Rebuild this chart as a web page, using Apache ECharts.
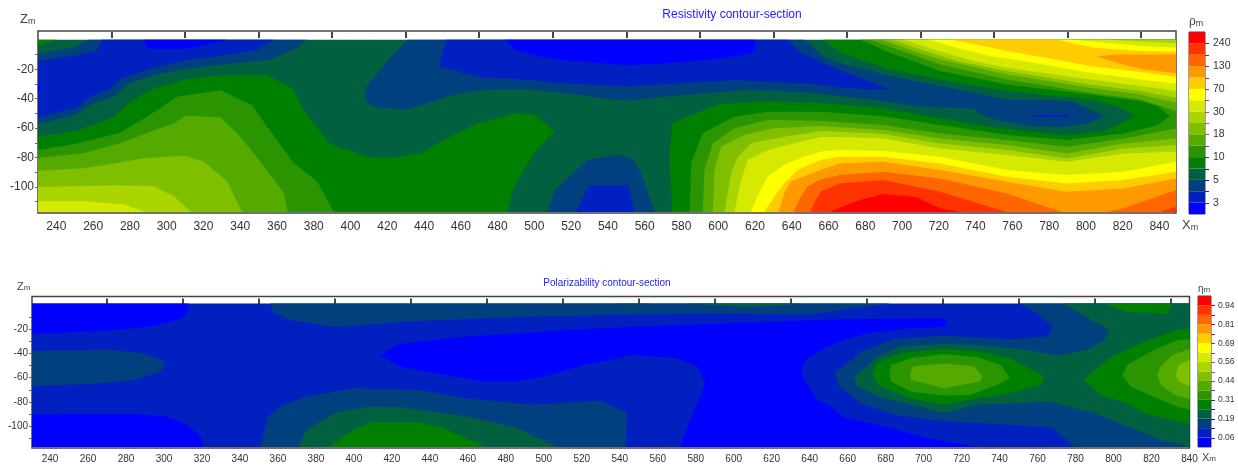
<!DOCTYPE html>
<html><head><meta charset="utf-8">
<style>html,body{margin:0;padding:0;background:#fff}#c{width:1238px;height:467px}</style>
<script src="https://cdn.jsdelivr.net/npm/echarts@6/dist/echarts.min.js"></script>
</head><body><div id="c"></div>
<script>
const bandColors=['#0000FF','#0020BF','#00407F','#00603F','#008000','#2A9500','#55AA00','#80BF00','#AAD500','#D5EA00','#FFFF00','#FFCC00','#FF9900','#FF6600','#FF3300','#FF0000'];
const tickColors=['#2a2ae0','#1a1ad0','#1010c0','#1010b0','#303090','#6040a8','#8050b8','#a050b0','#b84090','#c03070','#c82050','#d01838','#d81028','#e00818','#f00010'];
const resLegendLabels=['3','5','10','18','30','70','130','240'];
const polLegendLabels=['0.06','0.19','0.31','0.44','0.56','0.69','0.81','0.94'];
const legendEdges=[1,3,5,7,9,11,13,15];
const legendAllEdges=[1,2,3,4,5,6,7,8,9,10,11,12,13,14,15];
const resXLabels=[240,260,280,300,320,340,360,380,400,420,440,460,480,500,520,540,560,580,600,620,640,660,680,700,720,740,760,780,800,820,840];
const xMinor=[240,250,260,270,280,290,300,310,320,330,340,350,360,370,380,390,400,410,420,430,440,450,460,470,480,490,500,510,520,530,540,550,560,570,580,590,600,610,620,630,640,650,660,670,680,690,700,710,720,730,740,750,760,770,780,790,800,810,820,830,840];
const stations=[270,310,350,390,430,470,510,550,590,630,670,710,750,790,830];
const zLabels=[-20,-40,-60,-80,-100];
const zMinor=[-10,-20,-30,-40,-50,-60,-70,-80,-90,-100,-110];

// Resistivity section: base band 4, boundaries in metres [x, z]
const r3a=[[230,-9.5],[250.3,-5],[257.6,0],[376.4,0],[370,-6],[356.4,-13.5],[336.5,-16],[310.2,-19.6],[293,-24],[279.3,-29.7],[271.2,-38.7],[260.3,-43],[250.3,-51],[230,-57.4]];
const r3b=[[431,0],[647,0],[657.8,-11.7],[666.3,-16],[693.5,-24.6],[720.7,-31.4],[757,-40.5],[791.4,-41.6],[810.5,-51.8],[800.7,-56.8],[786.2,-59.5],[768.1,-58.6],[751.9,-54.5],[742.8,-51],[739,-46.6],[710,-45.5],[686.8,-41],[668.7,-38.7],[650.6,-36],[618,-34],[590.7,-36.5],[565.4,-39.4],[550.9,-41.4],[540,-40.3],[518,-36.5],[494.7,-33.6],[473,-34],[454.9,-37.6],[438.5,-44.4],[429,-47.7],[412.6,-45.5],[408,-41],[408,-33],[414.4,-23],[425.3,-7]];
const r3c=[[506.9,-117],[511,-102],[529,-81.5],[545.4,-78],[552.7,-80.4],[558,-90.5],[565.4,-117]];
const r2a=[[230,-14.6],[250.3,-10.6],[262,-7.2],[264.8,0],[358.2,0],[349,-7],[325.6,-11.7],[309,-14],[291,-19.6],[274.8,-26.4],[269.4,-33],[258.5,-38.7],[251.2,-46],[230,-52.7]];
const r2b=[[452.1,0],[638.7,0],[642.8,-7.2],[650.6,-11.7],[659.6,-17.3],[666.3,-21.2],[677.2,-25.7],[693.5,-33.7],[684.4,-33.7],[666.3,-32.5],[650.6,-29.7],[608.8,-27.5],[581.7,-29.3],[551,-31.5],[518,-29.7],[491,-26.8],[473,-25.7],[448.5,-18.5],[449,-11.7]];
const r2c=[[522.4,-117],[530,-99],[551,-99],[554.5,-117]];
const r2d=[[767,-51.3],[778,-50.7],[791.4,-51.3],[789.6,-52.5],[775.1,-52.5]];
const r1a=[[287.5,0],[289.3,-6],[311,-6],[332.8,0]];
const r1b=[[483.8,0],[490,-7],[509,-12.8],[536.4,-16],[550.9,-17.3],[572.6,-16],[599.8,-12.8],[617.9,-9.5],[620.6,-6],[619.7,0]];
const r1c=[[230,-30],[232,-33],[230,-36]];
const r5a=[[230,-65.8],[251,-62],[272,-52],[279,-43],[293,-33],[310,-27],[329,-24],[355,-24],[369,-34],[374.5,-48],[389,-71],[411,-80],[423.5,-80],[438.5,-77],[449.4,-69],[469,-57],[489,-50],[500,-51],[511,-62],[500,-77],[489,-99.5],[485,-117],[230,-117]];
const r5b=[[575,-117],[573.5,-79],[575,-57],[587,-50],[601.5,-43.6],[627,-41.7],[656,-43],[687,-46],[710,-51],[737,-57],[752,-60],[790,-65],[810,-62],[817,-58],[826.8,-51.8],[816.8,-45],[802.3,-40.5],[757,-34.8],[720.7,-26.9],[693.5,-20.1],[666.3,-8.7],[657,0],[849,0],[849,-117]];
const r5c=[[230,0],[240,0],[232,-3],[230,-4]];
const r6a=[[230,-74.8],[250.3,-70.7],[273.9,-63.5],[289.3,-52.3],[305.6,-38.7],[329.2,-34.2],[346.4,-44.4],[354.6,-59],[369.1,-83.8],[381.8,-96.2],[390.9,-117],[230,-117]];
const r6b=[[584.4,-117],[585.3,-83.8],[591.6,-63.5],[608.8,-52.3],[627,-48.9],[656,-48.9],[689.9,-52],[720.7,-57.9],[757,-64.7],[789.6,-68.1],[820.5,-63.6],[838.6,-58],[845.8,-51.8],[838.6,-45],[829.5,-41.6],[802.3,-37.1],[757,-30.3],[720.7,-21.2],[693.5,-8.7],[677.2,0],[849,0],[849,-117]];
const r7a=[[230,-80.4],[254.9,-77],[274.8,-70.3],[291.1,-62.4],[303.8,-56.8],[310.2,-51.6],[329.2,-52.7],[340.1,-65.8],[352.8,-86],[363.7,-104],[365.8,-117],[230,-117]];
const r7b=[[591.6,-117],[592.5,-88.3],[597.1,-70.3],[608.8,-60.1],[627,-54.5],[656,-55],[666.3,-56],[689.9,-57.9],[720.7,-63.6],[757,-68.1],[789.6,-72.6],[820.5,-67],[849,-60.2],[849,-117]];
const r7c=[[682.6,0],[702.6,-8.7],[720.7,-16.7],[757,-26.9],[802.3,-35.9],[829.5,-40.5],[849,-48.4],[849,0]];
const r8a=[[230,-89],[254.9,-87.2],[273,-83.8],[285.7,-80.9],[309.3,-78.6],[320.1,-82.7],[332.8,-96.2],[341,-117],[230,-117]];
const r8b=[[597.1,-117],[598,-88.3],[601.6,-72.5],[614.3,-64.6],[630.6,-60.1],[656,-58.5],[666.3,-59.5],[689.9,-61.3],[720.7,-67],[757,-71.5],[789.6,-77.2],[820.5,-70.4],[849,-67],[849,-117]];
const r8c=[[689,0],[706.2,-7.6],[720.7,-13.3],[757,-23.5],[802.3,-32.5],[829.5,-37.1],[849,-42.7],[849,0]];
const r9a=[[230,-100],[273,-98.9],[292.9,-99.5],[303.8,-106.3],[313.4,-117],[230,-117]];
const r9b=[[603.4,-117],[607,-90.5],[610.7,-79.3],[617.9,-70.3],[636,-65.8],[656,-62],[666.3,-62.5],[689.9,-64],[720.7,-70.4],[757,-74.9],[789.6,-80.6],[820.5,-73.8],[849,-71.5],[849,-117]];
const r9c=[[694.4,0],[709.8,-6.5],[729.8,-14.4],[757,-21.2],[802.3,-30.3],[829.5,-34.8],[849,-39.3],[849,0]];
const r10a=[[230,-109.7],[254.9,-109.7],[276.6,-111.9],[288.4,-117],[230,-117]];
const r10b=[[608.8,-117],[612.5,-95],[616.1,-81.5],[627,-74.8],[645.1,-69.1],[656,-66],[666.3,-66],[689.9,-67],[720.7,-73.8],[757,-78.3],[789.6,-82.8],[820.5,-77.2],[849,-76],[849,-117]];
const r10c=[[700.8,0],[717.1,-6.5],[738.8,-14.4],[757,-19],[802.3,-26.9],[829.5,-31.4],[849,-34.8],[849,-2.4],[811.4,0]];
const r11a=[[617.5,-117],[622.4,-104],[627,-92.8],[636,-84.9],[646.9,-79.3],[656,-75.9],[666.3,-74.9],[689.9,-75.6],[720.7,-79.4],[757,-88.5],[789.6,-91.9],[820.5,-89.6],[849,-82.8],[849,-117]];
const r11b=[[714.4,0],[729.8,-5.3],[747.9,-11],[766,-14.4],[802.3,-22.3],[829.5,-26.9],[849,-29.8],[849,-5.3],[829.5,-4.2],[811.4,-2],[793.3,0]];
const r12a=[[625.1,-117],[630.6,-106.3],[636,-97.3],[643.3,-88.3],[656,-81.5],[666.3,-79.4],[689.9,-79.4],[720.7,-84],[757,-93],[789.6,-97.6],[820.5,-95.3],[849,-89.6],[849,-117]];
const r12b=[[727,0],[744.3,-4.2],[757,-7.6],[775.1,-11.5],[802.3,-17.8],[829.5,-21.9],[849,-25.1],[849,-8.1],[829.5,-7.6],[804.1,-5.3],[784.2,0]];
const r13a=[[632.8,-117],[636,-104],[639.6,-96.2],[656,-88.3],[666.3,-84],[689.9,-82.8],[720.7,-88.5],[757,-96.4],[789.6,-103.2],[820.5,-101],[849,-94.2],[849,-117]];
const r13b=[[805.9,-11.5],[815,-9.9],[849,-9.9],[849,-22.8],[829.5,-19.6],[820.5,-16.7]];
const r14a=[[641,-117],[645.1,-106.3],[648.7,-99.5],[656,-95],[666.3,-91.9],[689.9,-89.6],[720.7,-94.2],[757,-104.4],[786.9,-117]];
const r14b=[[811.4,-117],[820.5,-114.5],[849,-102.1],[849,-117]];
const r15a=[[650.1,-117],[653.2,-108.6],[656,-102.9],[666.3,-97.6],[689.9,-95.3],[720.7,-103.2],[757,-117]];
const r15b=[[840.4,-117],[849,-113.4],[849,-117]];
const r16a=[[661,-117],[666.3,-113.9],[677.2,-108.9],[689.9,-104.8],[708,-107],[720.7,-114.5],[731.6,-117]];

// Polarizability section: base band 2
const p1a=[[230.5,1],[313,1],[312.7,-4.4],[310,-11],[292.6,-18],[266.3,-21.6],[230.5,-24]];
const p1b=[[230.5,-90.4],[248.8,-89.6],[283.8,-89.6],[301.3,-91.8],[311.9,-98.6],[318.9,-108],[321,-117],[230.5,-117]];
const p1c=[[413.5,-41.8],[424,-32.2],[459.6,-26.2],[486,-23.5],[512.3,-20.8],[547.4,-18],[600,-15.3],[645.6,-12.6],[658.2,-12],[711.7,-11.2],[712.2,-14],[711.7,-18],[693.3,-19.4],[670.5,-23.5],[658.2,-29],[647.7,-35.8],[640.7,-42.6],[637.7,-45.4],[635.6,-56.3],[638.6,-65.8],[643.9,-78.1],[651.2,-83.6],[658.2,-93.2],[675.8,-98.6],[702,-109.6],[726.6,-116.4],[726.6,-117],[571.9,-117],[573.7,-108.2],[585.1,-64.5],[580.7,-50.8],[570.2,-44],[547.4,-41.3],[521,-49.5],[503.5,-57.7],[486,-63.1],[468.4,-63.1],[442.1,-56.3],[424.6,-50.8]];
const p3a=[[356,1],[357.4,-5.7],[366.2,-12.6],[389,-18],[406.5,-16.7],[424.6,-13.9],[477.2,-10.7],[529.8,-8.5],[582,-7.1],[640.7,-7.9],[658,-4],[682.8,1]];
const p3b=[[230.5,-38],[271.6,-37],[289,-40],[298.7,-45],[300.8,-49.5],[297.8,-55],[283.8,-62],[266.3,-64.5],[230.5,-67]];
const p3c=[[350.4,-117],[354.8,-91.8],[360.9,-83.6],[375,-75.4],[399.5,-68.6],[434.6,-70],[459.6,-76.8],[494.7,-82.2],[529.8,-78.7],[543.9,-89],[543,-117]];
const p3d=[[750.3,1],[759.9,-7.1],[767.8,-18],[765.2,-26.2],[745.9,-28.4],[710.8,-25.4],[684.5,-28.4],[667,-38.5],[653,-56.3],[655.6,-67.2],[667,-80.9],[684.5,-90.4],[710.8,-95.9],[745.9,-98.6],[767.8,-101.4],[779.2,-117],[840,-117],[840,1]];
const p4a=[[370.9,-117],[375,-102.7],[390.7,-88.5],[406.5,-84],[424.6,-84],[459.6,-91.8],[486,-101.4],[507,-117]];
const p4b=[[773,1],[781,-5.7],[797.6,-20.8],[795,-29],[786.2,-37.2],[770.4,-42],[754.7,-37.2],[728.4,-33],[710.8,-32.2],[688,-34.4],[675.8,-42.6],[663.5,-59],[664.4,-65.8],[675.8,-75.4],[693.3,-82.2],[710.8,-89],[728.4,-82.2],[749.4,-80.9],[766,-79.5],[789.7,-89],[807.2,-100],[824.8,-110.9],[840,-117],[840,1]];
const p4c=[[536,1],[547,0],[558,1]];
const p4d=[[573.7,1],[591.2,-0.3],[608.7,-1.6],[626.3,-0.3],[636.8,1]];
const p5a=[[386.7,-117],[399.5,-102.7],[410,-96.7],[434.6,-96.7],[447.4,-101.4],[469.3,-117]];
const p5b=[[673.1,-57.7],[674.9,-48],[688,-39.9],[710.8,-36.3],[728.4,-38.5],[745.9,-44],[763.4,-59],[761.7,-65.8],[745.9,-72.7],[728.4,-76.8],[710.8,-82.2],[693.3,-76.8],[675.8,-65.8]];
const p5c=[[784.1,-61.7],[798.5,-43.2],[816,-30.3],[833.5,-20.8],[840,-19.4],[840,-97.8],[833.5,-95.9],[816,-89],[807.2,-80.9],[793.2,-74]];
const p5d=[[795,1],[807.2,-5.7],[828.3,-7.1],[830.9,1]];
const p6a=[[681.9,-56.3],[682.8,-49.5],[693.3,-44],[710.8,-40.4],[728.4,-43.2],[740.6,-49.5],[745.5,-60.4],[738.9,-65.8],[724.9,-74],[710.8,-74.9],[693.3,-71.3],[682.8,-63.1]];
const p6b=[[804.6,-57.7],[807.2,-49.5],[821.3,-37.2],[833.5,-29],[840,-28.4],[840,-86.3],[833.5,-83.6],[823,-76.8],[809,-67.2]];
const p7a=[[693,-56.3],[694.2,-50.8],[710.8,-48],[726.6,-50.8],[731,-59],[730,-63.1],[710.8,-68.6],[693.3,-61.7]];
const p7b=[[823,-57.7],[824.8,-50.8],[831,-41.3],[840,-36.3],[840,-77.6],[831.8,-74],[824.8,-65.8]];
const p8a=[[832.7,-57.7],[834.4,-49.5],[840,-45.4],[840,-67.2],[834.4,-63.1]];

const resLayers=[[3,r3a],[3,r3b],[3,r3c],[2,r2a],[2,r2b],[2,r2c],[2,r2d],[1,r1a],[1,r1b],[1,r1c],[5,r5a],[5,r5b],[5,r5c],[6,r6a],[6,r6b],[7,r7a],[7,r7b],[7,r7c],[8,r8a],[8,r8b],[8,r8c],[9,r9a],[9,r9b],[9,r9c],[10,r10a],[10,r10b],[10,r10c],[11,r11a],[11,r11b],[12,r12a],[12,r12b],[13,r13a],[13,r13b],[14,r14a],[14,r14b],[15,r15a],[15,r15b],[16,r16a]];
const polLayers=[[1,p1a],[1,p1b],[1,p1c],[3,p3a],[3,p3b],[3,p3c],[3,p3d],[4,p4a],[4,p4b],[4,p4c],[4,p4d],[5,p5a],[5,p5b],[5,p5c],[5,p5d],[6,p6a],[6,p6b],[7,p7a],[7,p7b],[8,p8a]];
const resBase=[[4,[[230,0],[849,0],[849,-117],[230,-117]]]];
const polBase=[[2,[[230.5,1],[840,1],[840,-117],[230.5,-117]]]];

const font='"Liberation Sans",Arial,sans-serif';
const ink='#333';
function section(layers,xi,yi){
  return {type:'custom',xAxisIndex:xi,yAxisIndex:yi,silent:true,animation:false,clip:false,
    data:layers.map((l,i)=>({value:[l[1][0][0],l[1][0][1],i]})),
    renderItem:(p,api)=>{const l=layers[api.value(2)];
      return {type:'polygon',shape:{points:l[1].map(q=>api.coord(q))},style:{fill:bandColors[l[0]-1],stroke:null}};}};
}
function legendBar(xi,yi){
  return {type:'custom',xAxisIndex:xi,yAxisIndex:yi,silent:true,animation:false,clip:false,
    data:bandColors.map((c,i)=>({value:[0,i]})),
    renderItem:(p,api)=>{const i=api.value(1),a=api.coord([0,i+1]),b=api.coord([1,i]);
      return {type:'rect',shape:{x:a[0],y:a[1],width:b[0]-a[0],height:b[1]-a[1]},style:{fill:bandColors[i]}};}};
}
function legendTicks(xi,yi){
  return {type:'custom',xAxisIndex:xi,yAxisIndex:yi,silent:true,animation:false,clip:false,
    data:legendAllEdges.map(e=>({value:[1,e]})),
    renderItem:(p,api)=>{const e=api.value(1),a=api.coord([1,e]);
      return {type:'line',shape:{x1:a[0],y1:Math.round(a[1])+.5,x2:a[0]+4,y2:Math.round(a[1])+.5},style:{stroke:tickColors[e-1],lineWidth:1}};}};
}
function mainX(gi,min,max,fs,margin){return {type:'value',gridIndex:gi,min,max,position:'bottom',splitLine:{show:false},axisLine:{show:false},
  axisTick:{show:true,length:3,customValues:xMinor,lineStyle:{color:'#666'}},
  axisLabel:{customValues:resXLabels,color:ink,fontSize:fs,fontFamily:font,margin,hideOverlap:false,showMinLabel:true,showMaxLabel:true}};}
function topX(gi,min,max,off){return {type:'value',gridIndex:gi,min,max,position:'top',offset:off,splitLine:{show:false},axisLine:{show:false},
  axisTick:{show:true,inside:true,length:6,customValues:stations,lineStyle:{color:'#444',width:2}},axisLabel:{show:false}};}
function mainY(gi,min,max,fs){return {type:'value',gridIndex:gi,min,max,splitLine:{show:false},axisLine:{show:false},
  axisTick:{show:true,length:3,customValues:zMinor,lineStyle:{color:'#666'}},
  axisLabel:{customValues:zLabels,color:ink,fontSize:fs,fontFamily:font,margin:4,hideOverlap:false}};}
function legX(gi){return {type:'value',gridIndex:gi,min:0,max:1,show:false};}
function legY(gi,labels,fs,margin){return {type:'value',gridIndex:gi,min:0,max:16,position:'right',splitLine:{show:false},axisLine:{show:false},axisTick:{show:false},
  axisLabel:{customValues:legendEdges,color:ink,fontSize:fs,fontFamily:font,margin,formatter:v=>labels[legendEdges.indexOf(v)]}};}
function unit(a,b,left,top,fa,fb){const base={fontFamily:font,color:'#444',fontWeight:'normal',verticalAlign:'bottom'};
  return {text:`{a|${a}}{b|${b}}`,left,top,padding:0,textStyle:{fontWeight:'normal',rich:{a:{...base,fontSize:fa},b:{...base,fontSize:fb}}}};}

const chart=echarts.init(document.getElementById('c'),null,{renderer:'canvas'});
chart.setOption({
  animation:false,backgroundColor:'#fff',
  title:[
    {text:'Resistivity contour-section',left:732,top:9,textAlign:'center',padding:0,textStyle:{color:'#2222ff',fontSize:12,fontWeight:'normal',fontFamily:font}},
    {text:'Polarizability contour-section',left:607,top:278,textAlign:'center',padding:0,textStyle:{color:'#2222ff',fontSize:10,fontWeight:'normal',fontFamily:font}},
    unit('Z','m',20,13,13,9),unit('X','m',1182,219,13,9),unit('ρ','m',1189,16,12,9),
    unit('Z','m',17,281,11,8),unit('X','m',1202,452,11,8),unit('η','m',1198,284,10,8)
  ],
  grid:[
    {left:38,top:31,width:1138,height:182,show:true,borderColor:'#444',borderWidth:1.5,backgroundColor:'#fff'},
    {left:1189,top:32,width:16,height:182,show:true,borderColor:'#444',borderWidth:1,backgroundColor:'#fff'},
    {left:32,top:296.5,width:1157.5,height:151.5,show:true,borderColor:'#444',borderWidth:1.5,backgroundColor:'#fff'},
    {left:1198,top:296,width:13,height:151,show:true,borderColor:'#444',borderWidth:1,backgroundColor:'#fff'}
  ],
  xAxis:[mainX(0,230,849,12,8),topX(0,230,849,-1),legX(1),mainX(2,230.5,840,10,6),topX(2,230.5,840,-2),legX(3)],
  yAxis:[mainY(0,-117.7,6,12),legY(1,resLegendLabels,10.5,8),mainY(2,-117.8,6.8,10),legY(3,polLegendLabels,8.5,7)],
  series:[
    section(resBase.concat(resLayers),0,0),
    section(polBase.concat(polLayers),3,2),
    legendBar(2,1),legendTicks(2,1),
    legendBar(5,3),legendTicks(5,3)
  ]
});
</script></body></html>
